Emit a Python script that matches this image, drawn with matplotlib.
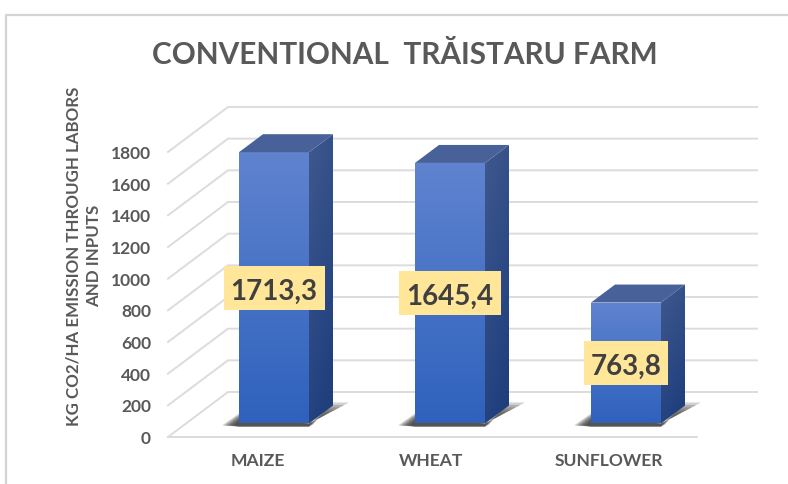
import numpy as np
import matplotlib
matplotlib.use("Agg")
import matplotlib.pyplot as plt
from matplotlib.colors import LinearSegmentedColormap
from matplotlib.patches import Polygon, Rectangle

categories = ["MAIZE", "WHEAT", "SUNFLOWER"]
values = [1713.3, 1645.4, 763.8]
value_labels = ["1713,3", "1645,4", "763,8"]
y_ticks = [0, 200, 400, 600, 800, 1000, 1200, 1400, 1600, 1800]

W, H = 788, 484
PX_PER_UNIT = 31.67 / 200
BASE_PX = 423.5
X0_PX = 274.0
STEP_PX = 176.0


def px_x(u):
    return (u - X0_PX) / STEP_PX


def px_y(u):
    return (BASE_PX - u) / PX_PER_UNIT


def dx(u):
    return u / STEP_PX


def dy(u):
    return u / PX_PER_UNIT


def grad(ax, colors, poly, angle=False):
    # vertical gradient clipped to a polygon
    cmap = LinearSegmentedColormap.from_list("g", colors)
    xs = [p[0] for p in poly]
    ys = [p[1] for p in poly]
    if angle:
        img = np.linspace(0, 1, 64)[:, None] + np.linspace(0, 0.35, 64)[None, :]
    else:
        img = np.linspace(0, 1, 64)[:, None]
    im = ax.imshow(img, extent=(min(xs), max(xs), min(ys), max(ys)), origin="upper",
                   aspect="auto", cmap=cmap, vmin=0, vmax=1.2 if angle else 1, zorder=3,
                   interpolation="bilinear")
    p = Polygon(poly, closed=True, transform=ax.transData, fc="none", ec="none")
    ax.add_patch(p)
    im.set_clip_path(p)


plt.rcParams["font.family"] = ["Lato", "DejaVu Sans"]
fig = plt.figure(figsize=(W / 100, H / 100), dpi=100)
ax = fig.add_axes([0, 0, 1, 1])
ax.axis("off")
ax.set_xlim(px_x(0), px_x(W))
ax.set_ylim(px_y(H), px_y(0))

# outer frame
ax.plot([px_x(6), px_x(6), px_x(W)], [px_y(H), px_y(14.5), px_y(14.5)], color="#d4d4d4", lw=1.6, zorder=1)

# side wall + back wall grid, then the front edge of the floor
front_x, back_x, right_x = px_x(168), px_x(228), px_x(757)
front_off, back_off = dy(BASE_PX - 437), dy(BASE_PX - 392)
for v in y_ticks:
    ax.plot([front_x, back_x, right_x], [v + front_off, v + back_off, v + back_off],
            color="#dcdcdc", lw=1.4, zorder=2, solid_joinstyle="miter")
ax.plot([front_x, px_x(697)], [front_off, front_off], color="#dcdcdc", lw=1.4, zorder=2)

half = dx(35)
ddx, ddy = dx(24), dy(18)
renderer = fig.canvas.get_renderer()
for i, (v, lab) in enumerate(zip(values, value_labels)):
    l, r = i - half, i + half
    # soft shadow on the floor, layered so it fades outwards
    for s in np.linspace(1, 0.3, 7):
        shadow = [(l - s * dx(17), -dy(2)), (l, s * dy(10)), (r, 0), (r + s * dx(40), s * dy(21)),
                  (r + s * dx(24), s * dy(21)), (r + s * dx(4), -dy(1)), (r, -dy(3)), (l, -dy(3))]
        ax.add_patch(Polygon(shadow, closed=True, fc="#33322e", ec="none", alpha=0.22, zorder=2.5))
    grad(ax, ["#5f83cf", "#2f62bd"], [(l, 0), (l, v), (r, v), (r, 0)])
    grad(ax, ["#40598f", "#1f3f7d"], [(r, 0), (r, v), (r + ddx, v + ddy), (r + ddx, ddy)], angle=True)
    ax.add_patch(Polygon([(l, v), (r, v), (r + ddx, v + ddy), (l + ddx, v + ddy)], closed=True,
                         fc="#486299", ec="none", zorder=3))
    # value label, box width follows the text
    t = ax.text(i, v / 2 - dy(4), lab, ha="center", va="center", fontsize=20, fontweight="bold",
                color="#404040", zorder=5)
    box_w = t.get_window_extent(renderer).width + 14
    ax.add_patch(Rectangle((i - dx(box_w / 2), v / 2 - dy(22)), dx(box_w), dy(44), fc="#ffe699", ec="none", zorder=4))

    ax.text(px_x(257.5) + i * (px_x(608.5) - px_x(257.5)) / 2 - (dx(1.5) if i == 1 else 0), px_y(461),
            categories[i], ha="center", va="center", fontsize=12.6, fontweight="bold", color="#595959")

for v in y_ticks:
    ax.text(px_x(151), v + front_off - dy(2), str(v), ha="right", va="center", fontsize=12.5,
            fontweight="bold", color="#595959")

ax.text(px_x(404.5), px_y(55), "CONVENTIONAL  TRĂISTARU FARM", ha="center", va="center",
        fontsize=21.4, fontweight="bold", color="#595959")
ax.text(px_x(84), px_y(256), "KG CO2/HA EMISSION THROUGH LABORS\nAND INPUTS", rotation=90, ha="center", va="center",
        fontsize=12.2, fontweight="bold", color="#595959", linespacing=1.35)

fig.savefig("out.png", dpi=100)
